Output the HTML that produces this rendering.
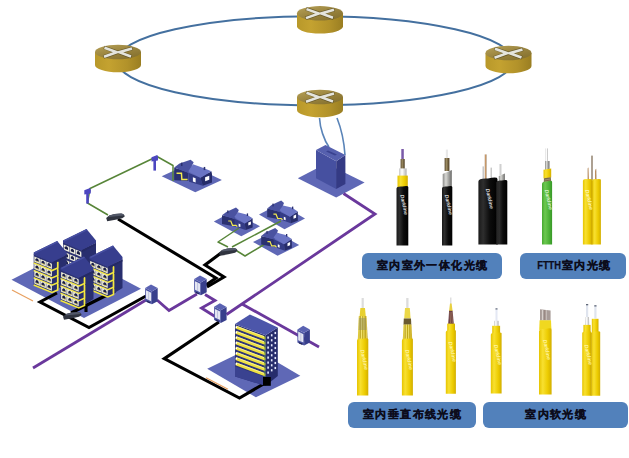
<!DOCTYPE html>
<html><head><meta charset="utf-8">
<style>
html,body{margin:0;padding:0;background:#fff;width:629px;height:458px;overflow:hidden;}
svg{display:block;position:absolute;left:0;top:0;}
.lbl{position:absolute;background:#5281bb;border-radius:6px;color:#0c0c1c;-webkit-text-stroke:0.25px #0c0c1c;font-family:"Liberation Sans",sans-serif;font-weight:bold;font-size:11px;letter-spacing:1.4px;text-indent:1.4px;text-align:center;line-height:24px;}
.n{display:inline-block;letter-spacing:0;transform:scaleX(0.85);transform-origin:left center;margin-right:-3.2px;}
</style></head><body>
<svg width="629" height="458" viewBox="0 0 629 458">
<defs>
  <linearGradient id="gblk" x1="0" y1="0" x2="1" y2="0">
    <stop offset="0" stop-color="#1a1a1a"/><stop offset="0.25" stop-color="#2e2e2e"/><stop offset="0.6" stop-color="#0c0c0c"/><stop offset="1" stop-color="#000"/>
  </linearGradient>
  <linearGradient id="gyel" x1="0" y1="0" x2="1" y2="0">
    <stop offset="0" stop-color="#e6c400"/><stop offset="0.3" stop-color="#f8e030"/><stop offset="0.7" stop-color="#eccb00"/><stop offset="1" stop-color="#d2ae00"/>
  </linearGradient>
  <linearGradient id="ggrn" x1="0" y1="0" x2="1" y2="0">
    <stop offset="0" stop-color="#46a830"/><stop offset="0.3" stop-color="#6cc850"/><stop offset="0.7" stop-color="#4cb236"/><stop offset="1" stop-color="#389828"/>
  </linearGradient>
  <linearGradient id="ggry" x1="0" y1="0" x2="1" y2="0">
    <stop offset="0" stop-color="#8a8a88"/><stop offset="0.35" stop-color="#d8d8d4"/><stop offset="1" stop-color="#6a6a68"/>
  </linearGradient>
  <linearGradient id="gwht" x1="0" y1="0" x2="1" y2="0">
    <stop offset="0" stop-color="#c8c8c8"/><stop offset="0.4" stop-color="#fff"/><stop offset="1" stop-color="#b0b0b0"/>
  </linearGradient>
  <linearGradient id="gbrn" x1="0" y1="0" x2="1" y2="0">
    <stop offset="0" stop-color="#5a4a30"/><stop offset="0.4" stop-color="#9a8a60"/><stop offset="1" stop-color="#4a3a20"/>
  </linearGradient>
  <linearGradient id="gstr" x1="0" y1="0" x2="1" y2="0">
    <stop offset="0" stop-color="#c8a800"/><stop offset="0.12" stop-color="#f0e060"/><stop offset="0.25" stop-color="#b8a020"/><stop offset="0.38" stop-color="#f4e470"/><stop offset="0.5" stop-color="#c0a818"/><stop offset="0.62" stop-color="#f0e068"/><stop offset="0.75" stop-color="#b89c10"/><stop offset="0.88" stop-color="#e8d050"/><stop offset="1" stop-color="#a88a00"/>
  </linearGradient>
  <linearGradient id="gcu" x1="0" y1="0" x2="1" y2="0">
    <stop offset="0" stop-color="#8a6030"/><stop offset="0.5" stop-color="#d0a070"/><stop offset="1" stop-color="#7a5020"/>
  </linearGradient>
  <linearGradient id="rside" x1="0" y1="0" x2="1" y2="0">
    <stop offset="0" stop-color="#b8982a"/><stop offset="0.3" stop-color="#c4a230"/><stop offset="0.7" stop-color="#b2922a"/><stop offset="1" stop-color="#9a7e22"/>
  </linearGradient>
  <linearGradient id="rtop" x1="0" y1="0" x2="0.8" y2="1">
    <stop offset="0" stop-color="#b8a258"/><stop offset="0.5" stop-color="#9c8640"/><stop offset="1" stop-color="#84702e"/>
  </linearGradient>
  <g id="router">
    <path d="M-23,0 L-23,13 A23,7.2 0 0 0 23,13 L23,0 Z" fill="url(#rside)"/>
    <ellipse cx="0" cy="0" rx="23" ry="7.2" fill="url(#rtop)"/>
    <g stroke="#3e3418" stroke-width="3.6" stroke-linecap="butt" fill="none" opacity="0.55">
      <path d="M-14,-4.6 L-0.5,0.2 L-14.5,5 M14.5,-3.8 L0.5,0.2 L13.5,4.8"/>
    </g>
    <g stroke="#e4e4dc" stroke-width="2.6" stroke-linecap="butt" fill="none">
      <path d="M-13.5,-4.2 L-1.2,0.2 L-14,4.8 M14,-3.5 L1.2,0.2 L13,4.5"/>
    </g>
  </g>
    <g stroke="#f0f0ea" stroke-width="2.5" stroke-linecap="butt" fill="none">
      <path d="M-12,-4.5 L-1.5,-0.3 M-12,4.5 L-1.5,0.3 M12,-4.5 L1.5,-0.3 M12,4.5 L1.5,0.3"/>
    </g>
    <path d="M-14,-3.2 L-9,-3 M14,3.2 L9,3" stroke="#6a5a2a" stroke-width="0.8" opacity="0.6"/>
  </g>
  </g>
</defs>
<!-- ring -->
<ellipse cx="315" cy="60.8" rx="198" ry="44.5" fill="none" stroke="#44709f" stroke-width="2"/>
<use href="#router" x="320" y="13.3"/>
<use href="#router" x="118" y="52"/>
<use href="#router" x="508.5" y="53"/>
<use href="#router" x="320" y="97"/>

<defs>
  <g id="cab">
    <polygon points="0,0 6.7,3.4 6.7,16.2 0,13.2" fill="#4a52a2"/>
    <polygon points="0.8,2.2 6,4.8 6,13.2 0.8,10.8" fill="#e4e6f2"/>
    <line x1="3.4" y1="3.6" x2="3.4" y2="12" stroke="#a8acd0" stroke-width="0.6"/>
    <polygon points="6.7,3.4 12.5,0.1 12.5,13.2 6.7,16.2" fill="#383f8c"/>
    <polygon points="0,0 5.8,-3.6 12.5,0.1 6.7,3.4" fill="#5a62b2"/>
    <polygon points="1.5,12.5 5,14.2 5,15.6 1.5,14" fill="#22265a"/>
  </g>
  <g id="closure">
    <path d="M0,2.5 L3,0 Q8,-2 15,-2 Q18.5,-1.5 18.5,1 L16,2.8 Q10,4.5 1,5.8 Z" fill="#30343f"/>
    <path d="M3,0 Q8,-2 15,-2 Q18,-1.5 17.5,0 Q10,0.5 2.5,1.5 Z" fill="#525868"/>
  </g>
  <g id="house">
    <polygon points="9.6,-6.7 20.5,-2.8 20.5,3.6 9.6,3" fill="#2a3070"/>
    <polygon points="9.6,-6.7 13.7,-9.9 22.2,-12.8 24.6,-10.8 20.5,-2.8" fill="#4a52a0"/>
    <polygon points="20.5,-2.8 29.8,1.2 31.6,7.2 21.1,4.2" fill="#343c86"/>
    <polygon points="29.8,1.2 38.2,-3.8 38.7,-1.7 38.7,4.8 31.6,7.2" fill="#262c6a"/>
    <polygon points="20.5,-3.8 24,-9.3 32.2,-6.4 38.2,-3.8 29.8,1.2" fill="#6a74c4"/>
    <rect x="14.8" y="-10.5" width="1.2" height="2.6" fill="#2a3070"/>
    <rect x="32.3" y="-7.2" width="1.2" height="2.4" fill="#2a3070"/>
    <polygon points="24,0.7 26.1,1.5 26.1,4.8 24,4" fill="#fff"/>
    <polygon points="33.4,0.8 36.6,-0.5 36.6,2.6 33.4,3.8" fill="#fff"/>
    <polyline points="11.4,-2.3 15.2,-2.3 15.5,2.4 19.9,2.4" fill="none" stroke="#f2ea50" stroke-width="1.1"/>
  </g>
  <g id="house2">
    <polygon points="8.2,-6.1 21.3,-2.5 21.3,5 8.2,2.5" fill="#2a3070"/>
    <polygon points="8.2,-6.1 12.5,-9.5 22.2,-14 25,-11.5 21.3,-2.5" fill="#4a52a0"/>
    <polygon points="20.5,-3 31,2.2 31.8,8.7 21.3,5" fill="#343c86"/>
    <polygon points="31,2.2 38.8,-3.1 38.8,6.1 31.8,8.7" fill="#262c6a"/>
    <polygon points="20.5,-4.4 24,-9.2 32.7,-7 38.8,-3.1 31,2.2" fill="#6a74c4"/>
    <rect x="13.4" y="-11" width="1.3" height="2.8" fill="#2a3070"/>
    <rect x="33" y="-8" width="1.3" height="2.6" fill="#2a3070"/>
    <polygon points="24.8,2.2 26.6,2.9 26.6,5.7 24.8,5" fill="#fff"/>
    <polygon points="34.5,1.2 37.1,0 37.1,3.2 34.5,4.2" fill="#fff"/>
    <polyline points="14.4,-0.4 17,-0.4 18.7,3.9 22.2,3.9 23.5,5.3" fill="none" stroke="#f2ea50" stroke-width="1.2"/>
  </g>
  <g id="apt">
    <polygon points="0,1.5 18.3,9 18.3,40 0,33" fill="#2c3272"/>
    <polygon points="18.3,9 33,2.5 33,31 18.3,40" fill="#282e6e"/>
    <path d="M0.6,4.0 l5.6,2.3 v5.2 l-5.6,-2.3 z" fill="#eeecd6"/>
    <path d="M1.8,8.3 v-1.6 q1.6,-2.4 3.2,0.9 v2 z" fill="#1a1e48"/>
    <path d="M2.2,8.5 l2.6,1" stroke="#d8c850" stroke-width="0.8"/>
    <path d="M6.6,6.5 l5.6,2.3 v5.2 l-5.6,-2.3 z" fill="#eeecd6"/>
    <path d="M7.8,10.8 v-1.6 q1.6,-2.4 3.2,0.9 v2 z" fill="#1a1e48"/>
    <path d="M8.2,10.9 l2.6,1" stroke="#d8c850" stroke-width="0.8"/>
    <path d="M12.6,8.9 l5.6,2.3 v5.2 l-5.6,-2.3 z" fill="#eeecd6"/>
    <path d="M13.8,13.2 v-1.6 q1.6,-2.4 3.2,0.9 v2 z" fill="#1a1e48"/>
    <path d="M14.2,13.4 l2.6,1" stroke="#d8c850" stroke-width="0.8"/>
    <polyline points="0,10.6 18.3,18.1 24,15.6 24,9.6" fill="none" stroke="#f4e840" stroke-width="1.6"/>
    <path d="M0.6,11.3 l5.6,2.3 v5.2 l-5.6,-2.3 z" fill="#eeecd6"/>
    <path d="M1.8,15.6 v-1.6 q1.6,-2.4 3.2,0.9 v2 z" fill="#1a1e48"/>
    <path d="M2.2,15.8 l2.6,1" stroke="#d8c850" stroke-width="0.8"/>
    <path d="M6.6,13.8 l5.6,2.3 v5.2 l-5.6,-2.3 z" fill="#eeecd6"/>
    <path d="M7.8,18.1 v-1.6 q1.6,-2.4 3.2,0.9 v2 z" fill="#1a1e48"/>
    <path d="M8.2,18.2 l2.6,1" stroke="#d8c850" stroke-width="0.8"/>
    <path d="M12.6,16.2 l5.6,2.3 v5.2 l-5.6,-2.3 z" fill="#eeecd6"/>
    <path d="M13.8,20.5 v-1.6 q1.6,-2.4 3.2,0.9 v2 z" fill="#1a1e48"/>
    <path d="M14.2,20.7 l2.6,1" stroke="#d8c850" stroke-width="0.8"/>
    <polyline points="0,17.9 18.3,25.4 24,22.9 24,16.9" fill="none" stroke="#f4e840" stroke-width="1.6"/>
    <path d="M0.6,18.6 l5.6,2.3 v5.2 l-5.6,-2.3 z" fill="#eeecd6"/>
    <path d="M1.8,22.9 v-1.6 q1.6,-2.4 3.2,0.9 v2 z" fill="#1a1e48"/>
    <path d="M2.2,23.1 l2.6,1" stroke="#d8c850" stroke-width="0.8"/>
    <path d="M6.6,21.1 l5.6,2.3 v5.2 l-5.6,-2.3 z" fill="#eeecd6"/>
    <path d="M7.8,25.4 v-1.6 q1.6,-2.4 3.2,0.9 v2 z" fill="#1a1e48"/>
    <path d="M8.2,25.6 l2.6,1" stroke="#d8c850" stroke-width="0.8"/>
    <path d="M12.6,23.5 l5.6,2.3 v5.2 l-5.6,-2.3 z" fill="#eeecd6"/>
    <path d="M13.8,27.8 v-1.6 q1.6,-2.4 3.2,0.9 v2 z" fill="#1a1e48"/>
    <path d="M14.2,28.0 l2.6,1" stroke="#d8c850" stroke-width="0.8"/>
    <polyline points="0,25.2 18.3,32.7 24,30.2 24,24.2" fill="none" stroke="#f4e840" stroke-width="1.6"/>
    <path d="M0.6,25.9 l5.6,2.3 v5.2 l-5.6,-2.3 z" fill="#eeecd6"/>
    <path d="M1.8,30.2 v-1.6 q1.6,-2.4 3.2,0.9 v2 z" fill="#1a1e48"/>
    <path d="M2.2,30.4 l2.6,1" stroke="#d8c850" stroke-width="0.8"/>
    <path d="M6.6,28.3 l5.6,2.3 v5.2 l-5.6,-2.3 z" fill="#eeecd6"/>
    <path d="M7.8,32.6 v-1.6 q1.6,-2.4 3.2,0.9 v2 z" fill="#1a1e48"/>
    <path d="M8.2,32.8 l2.6,1" stroke="#d8c850" stroke-width="0.8"/>
    <path d="M12.6,30.8 l5.6,2.3 v5.2 l-5.6,-2.3 z" fill="#eeecd6"/>
    <path d="M13.8,35.1 v-1.6 q1.6,-2.4 3.2,0.9 v2 z" fill="#1a1e48"/>
    <path d="M14.2,35.3 l2.6,1" stroke="#d8c850" stroke-width="0.8"/>
    <polyline points="0,32.5 18.3,40.0 24,37.5 24,31.5" fill="none" stroke="#f4e840" stroke-width="1.6"/>
    <line x1="24" y1="9" x2="24" y2="36" stroke="#f4e840" stroke-width="1.2"/>
    <polygon points="0,0 23.5,-11.5 33,0 33,2.5 18.3,10 0,2" fill="#373e8e"/>
    <polygon points="0,0 23.5,-11.5 24.5,-10.3 1.5,1" fill="#4850a2"/>
    <polygon points="18.3,10 33,2.5 33,4.5 18.3,12" fill="#252a64"/>
  </g>
  <g id="aptb">
    <polygon points="0,1.5 18.3,9 18.3,40 0,33" fill="#2c3272"/>
    <polygon points="18.3,9 33,2.5 33,31 18.3,40" fill="#282e6e"/>
    <path d="M0.6,4.0 l5.6,2.3 v5.2 l-5.6,-2.3 z" fill="#ecebdc"/>
    <path d="M1.8,8.3 v-1.6 q1.6,-2.4 3.2,0.9 v2 z" fill="#1a1e48"/>
    <path d="M6.6,6.5 l5.6,2.3 v5.2 l-5.6,-2.3 z" fill="#ecebdc"/>
    <path d="M7.8,10.8 v-1.6 q1.6,-2.4 3.2,0.9 v2 z" fill="#1a1e48"/>
    <path d="M12.6,8.9 l5.6,2.3 v5.2 l-5.6,-2.3 z" fill="#ecebdc"/>
    <path d="M13.8,13.2 v-1.6 q1.6,-2.4 3.2,0.9 v2 z" fill="#1a1e48"/>
    <path d="M0.6,11.3 l5.6,2.3 v5.2 l-5.6,-2.3 z" fill="#ecebdc"/>
    <path d="M1.8,15.6 v-1.6 q1.6,-2.4 3.2,0.9 v2 z" fill="#1a1e48"/>
    <path d="M6.6,13.8 l5.6,2.3 v5.2 l-5.6,-2.3 z" fill="#ecebdc"/>
    <path d="M7.8,18.1 v-1.6 q1.6,-2.4 3.2,0.9 v2 z" fill="#1a1e48"/>
    <path d="M12.6,16.2 l5.6,2.3 v5.2 l-5.6,-2.3 z" fill="#ecebdc"/>
    <path d="M13.8,20.5 v-1.6 q1.6,-2.4 3.2,0.9 v2 z" fill="#1a1e48"/>
    <path d="M0.6,18.6 l5.6,2.3 v5.2 l-5.6,-2.3 z" fill="#ecebdc"/>
    <path d="M1.8,22.9 v-1.6 q1.6,-2.4 3.2,0.9 v2 z" fill="#1a1e48"/>
    <path d="M6.6,21.1 l5.6,2.3 v5.2 l-5.6,-2.3 z" fill="#ecebdc"/>
    <path d="M7.8,25.4 v-1.6 q1.6,-2.4 3.2,0.9 v2 z" fill="#1a1e48"/>
    <path d="M12.6,23.5 l5.6,2.3 v5.2 l-5.6,-2.3 z" fill="#ecebdc"/>
    <path d="M13.8,27.8 v-1.6 q1.6,-2.4 3.2,0.9 v2 z" fill="#1a1e48"/>
    <path d="M0.6,25.9 l5.6,2.3 v5.2 l-5.6,-2.3 z" fill="#ecebdc"/>
    <path d="M1.8,30.2 v-1.6 q1.6,-2.4 3.2,0.9 v2 z" fill="#1a1e48"/>
    <path d="M6.6,28.3 l5.6,2.3 v5.2 l-5.6,-2.3 z" fill="#ecebdc"/>
    <path d="M7.8,32.6 v-1.6 q1.6,-2.4 3.2,0.9 v2 z" fill="#1a1e48"/>
    <path d="M12.6,30.8 l5.6,2.3 v5.2 l-5.6,-2.3 z" fill="#ecebdc"/>
    <path d="M13.8,35.1 v-1.6 q1.6,-2.4 3.2,0.9 v2 z" fill="#1a1e48"/>
    <polygon points="0,0 23.5,-11.5 33,0 33,2.5 18.3,10 0,2" fill="#373e8e"/>
    <polygon points="0,0 23.5,-11.5 24.5,-10.3 1.5,1" fill="#4850a2"/>
    <polygon points="18.3,10 33,2.5 33,4.5 18.3,12" fill="#252a64"/>
  </g>
  <g id="pole">
    <path d="M-1.3,3 L1.3,3 L1.3,14.6 L-1.3,14.6 Z" fill="#4c46c0"/>
    <path d="M-3.2,1.2 L2.6,-1 L3.4,1.2 L3.2,4.5 L-3.2,5.5 Z" fill="#4c46c0"/>
  </g>
</defs>

<!-- platforms -->
<g fill="#5f68b6">
  <polygon points="161.7,176.3 188.3,164 221.9,180 195.3,192.3"/>
  <polygon points="213.8,221.4 232.5,211.5 260,226.3 241.3,236.2"/>
  <polygon points="259,214.6 279.5,203.8 305,218.5 284.5,229.3"/>
  <polygon points="253,242 274.6,231.2 299.2,245 277.6,255.8"/>
  <polygon points="11.5,279.8 68.5,250.5 141,288.7 84,318"/>
  <polygon points="207.2,368.7 251.6,347.2 300.3,375.8 255.9,397.3"/>
  <polygon points="297.8,178.3 326.2,163.4 364.6,182.6 336.2,197.5"/>
</g>
<!-- green lines -->
<g fill="none" stroke="#578538" stroke-width="1.5" stroke-linejoin="round">
  <polyline points="108,215 87.5,203 90,188.5 157,156.5 173,165.5 173,181"/>
  <polyline points="239,228 218,242 228,247"/>
  <polyline points="281,221 232,247"/>
  <polyline points="237,251 245,256 265,244"/>
</g>
<!-- black cables -->
<g fill="none" stroke="#000" stroke-width="3.1" stroke-linejoin="miter">
  <polyline points="118,219 216,278 206,285"/>
  <polyline points="221,253 205,265 224,277 207,287"/>
  <polyline points="57,293 40,302 89,327.5 146,296"/>
  <polyline points="115,291 71,313"/>
  <polyline points="86,306 86,312"/>
  <polyline points="219,322 164.3,358.7 239.5,398 267,382"/>
</g>
<!-- purple lines -->
<g fill="none" stroke="#6a389c" stroke-width="2.8" stroke-linejoin="miter">
  <polyline points="33,368 146,300"/>
  <polyline points="157,300 169,310.5 197,294"/>
  <polyline points="205,294.5 215,300.5 201.5,308 215,316.5"/>
  <polyline points="226.5,314.5 375,214 343.5,193.5"/>
  <polyline points="242,304 319,347"/>
</g>
<!-- orange marks -->
<g stroke="#e8a060" stroke-width="1.2">
  <line x1="12" y1="290" x2="33" y2="301"/>
  <line x1="206" y1="377.8" x2="228" y2="389.3"/>
</g>

<!-- central office -->
<path d="M319.5,118 C320,128 324,140 329,147" fill="none" stroke="#5a84b8" stroke-width="1.6"/>
<path d="M337,118 C341,128 344,140 345,155" fill="none" stroke="#5a84b8" stroke-width="1.6"/>
<polygon points="316,149.9 336.2,161.3 336.2,189 316,178.3" fill="#4650a0"/>
<polygon points="336.2,161.3 345.4,154.9 345.4,184 336.2,189" fill="#343a84"/>
<polygon points="316,149.9 325.5,145 345.4,154.9 336.2,161.3" fill="#5660ae"/>
<polygon points="326,151.5 328,150.5 337,154.5 335,155.5" fill="#3a4290"/>

<!-- apartments -->
<use href="#aptb" x="63" y="240.5"/>
<use href="#apt" x="33.7" y="252.5"/>
<use href="#apt" x="89.5" y="257"/>
<use href="#apt" x="60.5" y="268"/>
<!-- tall building -->
<polygon points="235,324 265.6,335.3 265.6,385.8 235,376.5" fill="#2e3479"/>
<g stroke="#eee040" stroke-width="2.9" fill="none">
  <path d="M236,327.2 L264,337.7 Q265.5,338.2 265.5,336.7 M236,332.4 L264,342.9 Q265.5,343.4 265.5,341.9 M236,337.7 L264,348.2 Q265.5,348.7 265.5,347.2 M236,342.9 L264,353.4 Q265.5,353.9 265.5,352.4 M236,348.2 L264,358.7 Q265.5,359.2 265.5,357.7 M236,353.4 L264,363.9 Q265.5,364.4 265.5,362.9 M236,358.6 L264,369.1 Q265.5,369.6 265.5,368.1 M236,363.9 L264,374.4 Q265.5,374.9 265.5,373.4 "/>
</g>
<g stroke="#fbf6a0" stroke-width="0.8" fill="none"><path d="M236,326.1 L264,336.6 M236,331.3 L264,341.8 M236,336.6 L264,347.1 M236,341.8 L264,352.3 M236,347.1 L264,357.6 M236,352.3 L264,362.8 M236,357.5 L264,368.0 M236,362.8 L264,373.3 "/></g>
<g fill="#fff"><rect x="235.6" y="326.4" width="1.4" height="1.6"/><rect x="235.6" y="331.6" width="1.4" height="1.6"/><rect x="235.6" y="336.9" width="1.4" height="1.6"/><rect x="235.6" y="342.1" width="1.4" height="1.6"/><rect x="235.6" y="347.4" width="1.4" height="1.6"/><rect x="235.6" y="352.6" width="1.4" height="1.6"/><rect x="235.6" y="357.8" width="1.4" height="1.6"/><rect x="235.6" y="363.1" width="1.4" height="1.6"/></g>
<polygon points="235,366.5 265.6,377 265.6,385.8 235,376.5" fill="#3a4290"/>
<line x1="265" y1="336" x2="265" y2="377" stroke="#6aa040" stroke-width="1"/>
<polygon points="265.6,335.3 277.8,327.5 277.8,376 265.6,385.8" fill="#262c6c"/>
<g fill="#e8ecff">
<rect x="267.3" y="336.5" width="1.6" height="2.2"/><rect x="270.9" y="334.2" width="1.6" height="2.2"/><rect x="274.5" y="331.9" width="1.6" height="2.2"/><rect x="267.3" y="341.5" width="1.6" height="2.2"/><rect x="270.9" y="339.2" width="1.6" height="2.2"/><rect x="274.5" y="336.9" width="1.6" height="2.2"/><rect x="267.3" y="346.5" width="1.6" height="2.2"/><rect x="270.9" y="344.2" width="1.6" height="2.2"/><rect x="274.5" y="341.9" width="1.6" height="2.2"/><rect x="267.3" y="351.5" width="1.6" height="2.2"/><rect x="270.9" y="349.2" width="1.6" height="2.2"/><rect x="274.5" y="346.9" width="1.6" height="2.2"/><rect x="267.3" y="356.5" width="1.6" height="2.2"/><rect x="270.9" y="354.2" width="1.6" height="2.2"/><rect x="274.5" y="351.9" width="1.6" height="2.2"/><rect x="267.3" y="361.5" width="1.6" height="2.2"/><rect x="270.9" y="359.2" width="1.6" height="2.2"/><rect x="274.5" y="356.9" width="1.6" height="2.2"/><rect x="267.3" y="366.5" width="1.6" height="2.2"/><rect x="270.9" y="364.2" width="1.6" height="2.2"/><rect x="274.5" y="361.9" width="1.6" height="2.2"/><rect x="267.3" y="371.5" width="1.6" height="2.2"/><rect x="270.9" y="369.2" width="1.6" height="2.2"/><rect x="274.5" y="366.9" width="1.6" height="2.2"/>
</g>
<polygon points="235,324 249.9,314.4 277.8,327.5 265.6,335.3" fill="#4c56aa"/>
<rect x="263" y="377" width="7.8" height="8.8" fill="#000"/>

<use href="#house" transform="translate(161.7,176.3) scale(1.3)"/>
<use href="#house2" x="213.8" y="221.4"/>
<use href="#house2" x="259" y="214.6"/>
<use href="#house2" x="253" y="242"/>
<!-- closures -->
<use href="#closure" x="106.2" y="215.5"/>
<use href="#closure" x="219" y="250"/>
<use href="#closure" x="63" y="314"/>
<!-- poles -->
<use href="#pole" x="87.5" y="189"/>
<use href="#pole" x="154.7" y="156"/>
<!-- cabinets -->
<use href="#cab" x="145.2" y="288"/>
<use href="#cab" x="194.2" y="279"/>
<use href="#cab" x="214.1" y="306.8"/>
<use href="#cab" x="297.4" y="329.4"/>
<!-- cables -->
<rect x="401.3" y="149" width="2.50" height="11.00" fill="#7a5aa8"/><rect x="400.6" y="159" width="4.10" height="10.00" fill="url(#gbrn)"/><rect x="399" y="168.4" width="7.60" height="8.10" fill="url(#gwht)"/><rect x="397.5" y="175.6" width="10.30" height="12.90" fill="url(#gyel)"/><path d="M396.5,188.5 Q396.5,186 402.4,186.5 Q408.3,185.5 408.3,187 L408.3,245.5 L396.5,245.5 Z" fill="url(#gblk)"/><text x="0" y="0" transform="translate(400.2,195.0) rotate(78)" font-family="Liberation Sans" font-style="italic" font-weight="bold" font-size="5.2" fill="#d8d8d8">Darkline</text><rect x="445.8" y="149.6" width="2.20" height="9.40" fill="#e8e8e8"/><rect x="444.6" y="158" width="4.80" height="13.00" fill="url(#gbrn)"/><path d="M442.7,174 L451.8,170 L451.8,188 L442.7,188 Z" fill="url(#ggry)"/><path d="M442,188.5 Q442,186 447.15,186.5 Q452.3,185.5 452.3,187 L452.3,245.5 L442,245.5 Z" fill="url(#gblk)"/><text x="0" y="0" transform="translate(444.8,195.0) rotate(78)" font-family="Liberation Sans" font-style="italic" font-weight="bold" font-size="5.2" fill="#d8d8d8">Darkline</text><rect x="484.8" y="154.4" width="1.60" height="25.60" fill="url(#gcu)"/><rect x="482.5" y="166.4" width="1.50" height="13.60" fill="#c8c8c8"/><rect x="490.5" y="167.6" width="1.50" height="12.40" fill="#c8c8c8"/><rect x="499.5" y="164" width="2.00" height="11.00" fill="#d0d0d0"/><path d="M498.8,176 L504.9,173.6 L504.9,184 L498.8,184 Z" fill="url(#ggry)"/><path d="M478.4,181.5 Q478.4,178 487.95,178.5 Q497.5,176.5 497.5,179 L497.5,244.6 L478.4,244.6 Z" fill="url(#gblk)"/><path d="M496.5,182.5 Q496.5,180 501.9,180.5 Q507.3,179.5 507.3,181 L507.3,244.6 L496.5,244.6 Z" fill="url(#gblk)"/><line x1="497" y1="182" x2="497" y2="244.6" stroke="#303030" stroke-width="0.8"/><text x="0" y="0" transform="translate(485.8,189.0) rotate(78)" font-family="Liberation Sans" font-style="italic" font-weight="bold" font-size="5.2" fill="#d8d8d8">Darkline</text><rect x="545.6" y="148.4" width="2.40" height="13.60" fill="url(#gwht)"/><rect x="545" y="161" width="4.50" height="10.00" fill="url(#ggry)"/><path d="M543.5,169.8 L551.2,168.6 L551.2,177.5 L543.5,178.6 Z" fill="url(#gyel)"/><path d="M544,178.2 L550.8,177.2 L551.5,185 L543.5,185 Z" fill="#7a6a48"/><path d="M544.5,180 L550.5,179 M544.5,182 L550.5,181" stroke="#b0a890" stroke-width="0.6"/><path d="M542,184 Q542,181 547.05,181.5 Q552.1,180 552.1,182 L552.1,244.6 L542,244.6 Z" fill="url(#ggrn)"/><text x="0" y="0" transform="translate(544.8,190.0) rotate(78)" font-family="Liberation Sans" font-style="italic" font-weight="bold" font-size="5.2" fill="#d8f0c8">Darkline</text><path d="M587.7,181 L587.7,170 Q587.5,167.6 588.5,167.6 L589,181 Z" fill="url(#gcu)"/><rect x="591.2" y="155.6" width="1.60" height="25.40" fill="#9a8a78"/><path d="M595,181 L595,171 Q595.4,168.8 596.2,168.8 L596.4,181 Z" fill="url(#gcu)"/><path d="M582.9,180.7 Q582.9,178.7 587.45,179.2 Q592,178.7 592,179.7 L592,244.6 L582.9,244.6 Z" fill="url(#gyel)"/><path d="M592,180.7 Q592,178.7 596.45,179.2 Q600.9,178.7 600.9,179.7 L600.9,244.6 L592,244.6 Z" fill="url(#gyel)"/><line x1="592" y1="181" x2="592" y2="244.6" stroke="#c9a600" stroke-width="0.8"/><text x="0" y="0" transform="translate(585.3,190.0) rotate(78)" font-family="Liberation Sans" font-style="italic" font-weight="bold" font-size="5.2" fill="#fff6b0">Darkline</text><rect x="361.6" y="298" width="2.2" height="10.5" fill="#dcdcdc"/><path d="M360.4,308 L365,308 L365.8,316.5 L359.6,316.5 Z" fill="#e8d030"/><path d="M358.8,316 L366.6,316 L367.6,339.8 L357.8,339.8 Z" fill="url(#gstr)"/><path d="M359,318 L366.2,318 L366.6,330 L358.6,330 Z" fill="#8a8a70" opacity="0.45"/><path d="M357,340.7 Q357,338.2 362.65,338.7 Q368.3,337.7 368.3,339.2 L368.3,395.6 L357,395.6 Z" fill="url(#gyel)"/><text x="0" y="0" transform="translate(360.4,350.0) rotate(78)" font-family="Liberation Sans" font-style="italic" font-weight="bold" font-size="5.2" fill="#fff4a0">Darkline</text><rect x="406.2" y="298" width="2.3" height="10.5" fill="#dcdcdc"/><path d="M405,308 L409.8,308 L410.6,318.5 L404.2,318.5 Z" fill="#ecd848"/><path d="M403.8,318.5 L411,318.5 L411.3,324.8 L403.5,324.8 Z" fill="#6a5a30"/><path d="M403.5,324.5 L411.5,324.5 L412.2,339.8 L402.8,339.8 Z" fill="url(#gstr)"/><path d="M401.9,340.7 Q401.9,338.2 407.4,338.7 Q412.9,337.7 412.9,339.2 L412.9,395.6 L401.9,395.6 Z" fill="url(#gyel)"/><text x="0" y="0" transform="translate(405.2,350.0) rotate(78)" font-family="Liberation Sans" font-style="italic" font-weight="bold" font-size="5.2" fill="#fff4a0">Darkline</text><rect x="450.2" y="297.5" width="1.2" height="7" fill="#d8d8d8"/><path d="M450,303.5 L451.6,303.5 L452.6,311 L449.1,311 Z" fill="#e8d040"/><path d="M449.1,310.8 L452.6,310.8 L453.8,324 L448.2,324 Z" fill="#6a3e48"/><path d="M450,312 L450.5,323 M451.8,312 L452.3,323" stroke="#b89060" stroke-width="0.6"/><rect x="447.2" y="323.6" width="7.8" height="8.4" fill="url(#gyel)"/><path d="M445.8,332.3 Q445.8,329.8 450.85,330.3 Q455.9,329.3 455.9,330.8 L455.9,393.7 L445.8,393.7 Z" fill="url(#gyel)"/><text x="0" y="0" transform="translate(448.6,342.0) rotate(78)" font-family="Liberation Sans" font-style="italic" font-weight="bold" font-size="5.2" fill="#fff4a0">Darkline</text><rect x="495.5" y="308.6" width="2" height="12.5" fill="#e4e8f4"/><rect x="495.5" y="308.3" width="2" height="1.2" fill="#606878"/><rect x="494" y="320.8" width="4.6" height="5.2" fill="url(#gwht)"/><rect x="492.2" y="325.8" width="7.9" height="8.2" fill="url(#gyel)"/><path d="M490.8,334.8 Q490.8,332.3 496.20000000000005,332.8 Q501.6,331.8 501.6,333.3 L501.6,393.4 L490.8,393.4 Z" fill="url(#gyel)"/><text x="0" y="0" transform="translate(494.0,345.0) rotate(78)" font-family="Liberation Sans" font-style="italic" font-weight="bold" font-size="5.2" fill="#fff4a0">Darkline</text><path d="M540,309.3 L550.6,310.5 L550.6,320.5 L540,320.5 Z" fill="#a89c98"/><path d="M542.5,309.8 L542.5,320 M546,310 L546,320" stroke="#d8d0cc" stroke-width="1.2"/><path d="M545,310 L545,320" stroke="#806860" stroke-width="0.7"/><path d="M539.6,320.3 L551,320.3 L551.4,329 L539.2,330 Z" fill="#f0d820"/><path d="M539,331.5 Q539,328.5 545.3,329.0 Q551.6,327.5 551.6,329.5 L551.6,394.6 L539,394.6 Z" fill="url(#gyel)"/><text x="0" y="0" transform="translate(543.1,340.0) rotate(78)" font-family="Liberation Sans" font-style="italic" font-weight="bold" font-size="5.2" fill="#fff4a0">Darkline</text><rect x="586" y="304.4" width="2.2" height="13.6" fill="#dfe4ee"/><rect x="586" y="304" width="2.2" height="1.3" fill="#606878"/><path d="M585.4,317 L589,317 L589.2,325.5 L585,325.5 Z" fill="url(#gwht)"/><rect x="594.3" y="305.6" width="2.2" height="13" fill="#dfe4ee"/><rect x="594.3" y="305.2" width="2.2" height="1.3" fill="#606878"/><rect x="583.4" y="324.9" width="7.20" height="9.10" fill="url(#gyel)"/><rect x="591.8" y="318.8" width="6.70" height="15.20" fill="url(#gyel)"/><path d="M582.2,333 Q582.2,331 586.7,331.5 Q591.2,331 591.2,332 L591.2,395.8 L582.2,395.8 Z" fill="url(#gyel)"/><path d="M591.2,333 Q591.2,331 595.7,331.5 Q600.2,331 600.2,332 L600.2,395.8 L591.2,395.8 Z" fill="url(#gyel)"/><line x1="591.2" y1="333" x2="591.2" y2="395.8" stroke="#c9a600" stroke-width="0.8"/><text x="0" y="0" transform="translate(584.5,345.0) rotate(78)" font-family="Liberation Sans" font-style="italic" font-weight="bold" font-size="5.2" fill="#fff4a0">Darkline</text>
</svg>
<div class="lbl" style="left:362px;top:253px;width:140px;height:26px;">室内室外一体化光缆</div>
<div class="lbl" style="left:520px;top:253px;width:106px;height:26px;"><span class="n">FTTH</span>室内光缆</div>
<div class="lbl" style="left:348px;top:402px;width:128px;height:26px;">室内垂直布线光缆</div>
<div class="lbl" style="left:483px;top:402px;width:145px;height:26px;">室内软光缆</div>
</body></html>
